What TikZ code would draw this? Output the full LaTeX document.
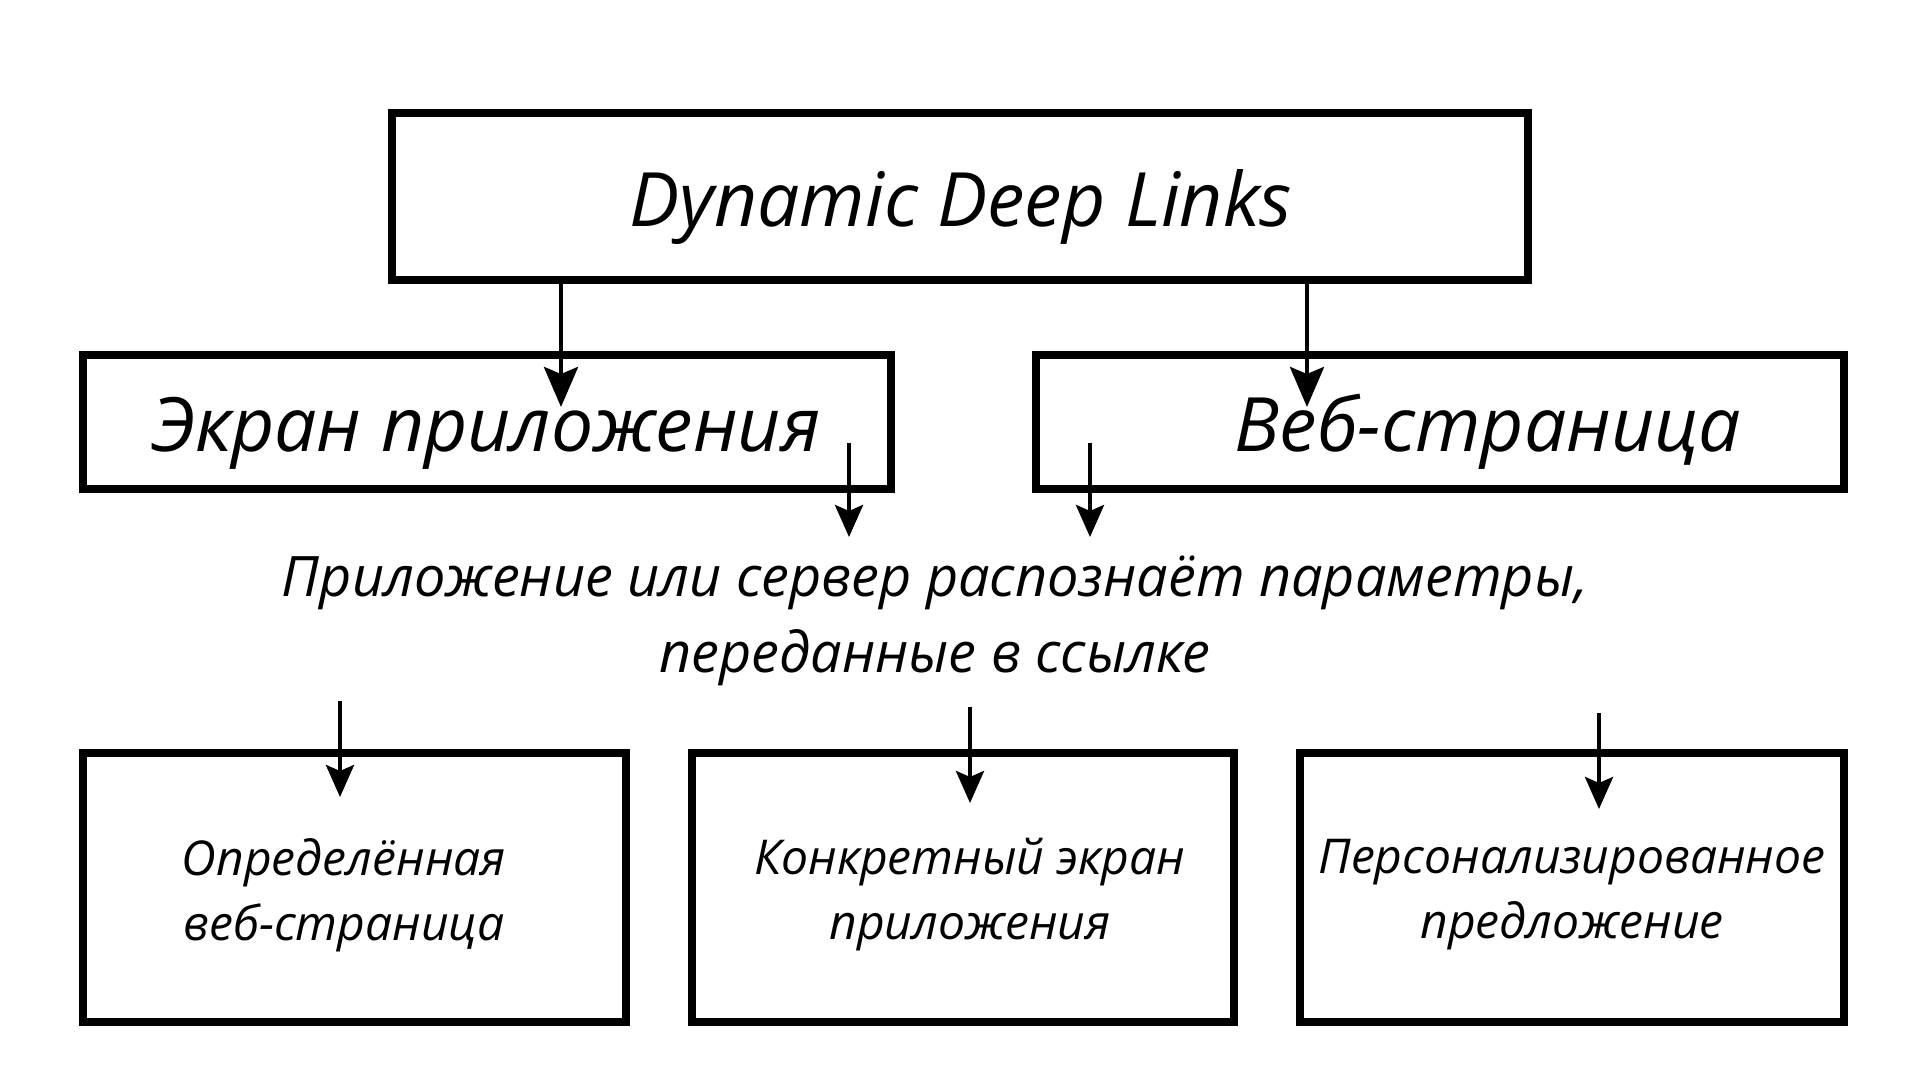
\documentclass[tikz,border=0pt]{standalone}
\usepackage{fontspec}
\setmainfont{Open Sans}
\usetikzlibrary{arrows.meta}
\begin{document}
\begin{tikzpicture}[x=1pt,y=-1pt,
  box/.style={draw, line width=7.5pt, inner sep=0pt, outer sep=0pt},
  arr/.style={line width=4.5pt, -{Stealth[length=40pt,width=34pt,inset=7pt]}},
  arrs/.style={line width=4.3pt, -{Stealth[length=32pt,width=28pt,inset=6pt]}},
  big/.style={font=\fontsize{75}{90}\selectfont\itshape, inner sep=0pt},
  mid/.style={font=\fontsize{55.8}{76}\selectfont\itshape, align=center, inner sep=0pt},
  small/.style={font=\fontsize{48}{65}\selectfont\itshape, align=center, inner sep=0pt}]
\useasboundingbox (0,0) rectangle (1920,1080);
\fill[white] (0,0) rectangle (1920,1080);
% boxes
\node[box, minimum width=1136pt, minimum height=167pt] (top) at (960,196.5) {};
\node[box, minimum width=808pt, minimum height=134pt] (app) at (487,422) {};
\node[box, minimum width=808pt, minimum height=134pt] (web) at (1440,422) {};
\node[box, minimum width=543pt, minimum height=269pt] (b1) at (354.5,887.5) {};
\node[box, minimum width=542pt, minimum height=269pt] (b2) at (963,887.5) {};
\node[box, minimum width=544pt, minimum height=269pt] (b3) at (1572,887.5) {};
% texts
\node[big, anchor=base] (toptxt) at (961,226) {Dynamic Deep Links};
\node[big, anchor=base] (apptxt) at (486,451) {Экран приложения};
\node[big, anchor=base] (webtxt) at (1488,451) {Веб-страница};
\node[mid] (midtxt) at (935,621) {Приложение или сервер распознаёт параметры,\\переданные в ссылке};
\node[small] (t1) at (344,895) {Определённая\\веб-страница};
\node[small] (t2) at (970,895) {Конкретный экран\\приложения};
\node[small] (t3) at (1572,895) {Персонализированное\\предложение};
% arrows from top box
\coordinate (e1) at (561,407);
\coordinate (e2) at (1307,407);
\draw[arr] (e1 |- top.south) -- (e1);
\draw[arr] (e2 |- top.south) -- (e2);
% arrows from middle boxes
\coordinate (s3) at (849,443); \coordinate (e3) at (849,537);
\coordinate (s4) at (1090,443); \coordinate (e4) at (1090,537);
\draw[arrs] (s3) -- (e3);
\draw[arrs] (s4) -- (e4);
% arrows into bottom boxes
\coordinate (s5) at (340,701); \coordinate (e5) at (340,797);
\coordinate (s6) at (970,707); \coordinate (e6) at (970,803);
\coordinate (s7) at (1599,713); \coordinate (e7) at (1599,809);
\draw[arrs] (s5) -- (e5);
\draw[arrs] (s6) -- (e6);
\draw[arrs] (s7) -- (e7);
\end{tikzpicture}
\end{document}
